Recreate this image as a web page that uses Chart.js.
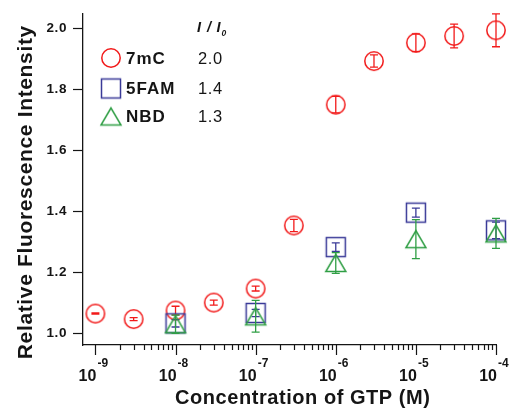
<!DOCTYPE html>
<html><head><meta charset="utf-8">
<script src="https://cdn.jsdelivr.net/npm/chart.js@4/dist/chart.umd.min.js"></script>
<style>html,body{margin:0;padding:0;background:#fff}#wrap{width:510px;height:412px}</style>
</head><body><div id="wrap"><canvas id="c" width="510" height="412"></canvas></div>
<script>
// ---- data ----
const conc7mC = [1e-9, 3e-9, 1e-8, 3e-8, 1e-7, 3e-7, 1e-6, 3e-6, 1e-5, 3e-5, 1e-4];
const val7mC  = [1.064, 1.046, 1.074, 1.100, 1.146, 1.353, 1.749, 1.892, 1.952, 1.974, 1.993];
const err7mC  = [0.002, 0.005, 0.014, 0.008, 0.008, 0.020, 0.027, 0.020, 0.029, 0.039, 0.054];
const conc5FAM = [1e-8, 1e-7, 1e-6, 1e-5, 1e-4];
const val5FAM  = [1.032, 1.066, 1.282, 1.395, 1.337];
const err5FAM  = [0.012, 0.012, 0.014, 0.015, 0.027];
const concNBD = [1e-8, 1e-7, 1e-6, 1e-5, 1e-4];
const valNBD  = [1.029, 1.055, 1.230, 1.308, 1.327];
const errNBD  = [0.030, 0.052, 0.034, 0.064, 0.049];
const yTicks = [1.0, 1.2, 1.4, 1.6, 1.8, 2.0];
const xDecades = [-9, -8, -7, -6, -5, -4];
const legendNames = ['7mC', '5FAM', 'NBD'];
const legendRatios = ['2.0', '1.4', '1.3'];
const xTitle = 'Concentration of GTP (M)';
const yTitle = 'Relative Fluorescence Intensity';

const FONT = '"Liberation Sans", Arial, Helvetica, sans-serif';
const RED = '#f21a1a', BLUE = '#3a3a98', GREEN = '#2f9e44', INK = '#151515';

function marker(kind, color) {
  const c = document.createElement('canvas');
  c.width = 24; c.height = 24;
  const g = c.getContext('2d');
  g.strokeStyle = color; g.lineWidth = 1.5;
  g.beginPath();
  if (kind === 'circle') g.arc(12, 12, 9.2, 0, Math.PI * 2);
  else if (kind === 'square') g.rect(2.5, 2.5, 19, 19);
  else { g.moveTo(12, 3.5); g.lineTo(2, 20.5); g.lineTo(22, 20.5); g.closePath(); }
  g.stroke();
  return c;
}
const mCircle = marker('circle', RED), mSquare = marker('square', BLUE), mTri = marker('tri', GREEN);
const markers = [mCircle, mSquare, mTri];

const pts = (xs, ys) => xs.map((x, i) => ({x, y: ys[i]}));

const errorBars = {
  id: 'errorBars',
  afterDatasetDraw(chart, args) {
    const ds = chart.data.datasets[args.index];
    const meta = args.meta;
    const ys = chart.scales.y;
    const ctx = chart.ctx;
    ctx.save();
    ctx.strokeStyle = ds.errColor; ctx.lineWidth = 1.3;
    meta.data.forEach((p, j) => {
      const v = ds.data[j].y, e = ds.errors[j];
      const y1 = ys.getPixelForValue(v + e), y2 = ys.getPixelForValue(v - e);
      ctx.beginPath();
      ctx.moveTo(p.x, y1); ctx.lineTo(p.x, y2);
      ctx.moveTo(p.x - 4, y1); ctx.lineTo(p.x + 4, y1);
      ctx.moveTo(p.x - 4, y2); ctx.lineTo(p.x + 4, y2);
      ctx.stroke();
    });
    ctx.restore();
  }
};

function spacedText(ctx, txt, x, y, ls, align) {
  ctx.letterSpacing = ls + 'px';
  let w = ctx.measureText(txt).width - ls;
  let sx = align === 'center' ? x - w / 2 : (align === 'right' ? x - w : x);
  ctx.textAlign = 'left';
  ctx.fillText(txt, sx, y);
  ctx.letterSpacing = '0px';
}

const decor = {
  id: 'decor',
  beforeDraw(chart) { chart.ctx.letterSpacing = '0.6px'; },
  afterDraw(chart) {
    const ctx = chart.ctx, xs = chart.scales.x, ca = chart.chartArea;
    ctx.save();
    ctx.letterSpacing = '0px';
    // x ticks
    ctx.strokeStyle = INK; ctx.lineWidth = 1.2;
    ctx.beginPath();
    for (let d = xDecades[0]; d <= xDecades[xDecades.length - 1]; d++) {
      const px = Math.round(xs.getPixelForValue(Math.pow(10, d))) + 0.5;
      ctx.moveTo(px, ca.bottom); ctx.lineTo(px, ca.bottom + 10);
      if (d < xDecades[xDecades.length - 1]) {
        for (let m = 2; m <= 9; m++) {
          const q = Math.round(xs.getPixelForValue(m * Math.pow(10, d))) + 0.5;
          ctx.moveTo(q, ca.bottom); ctx.lineTo(q, ca.bottom + 5);
        }
      }
    }
    ctx.stroke();
    // x tick labels
    ctx.fillStyle = INK; ctx.textBaseline = 'alphabetic';
    xDecades.forEach(d => {
      const px = xs.getPixelForValue(Math.pow(10, d));
      ctx.font = 'bold 16px ' + FONT; ctx.textAlign = 'right';
      ctx.fillText('10', px + 1, 381);
      ctx.font = 'bold 12px ' + FONT; ctx.textAlign = 'left';
      ctx.fillText(String(d), px + 2, 367);
    });
    // titles
    ctx.font = 'bold 20px ' + FONT;
    spacedText(ctx, xTitle, 302.5, 403.5, 0.55, 'center');
    ctx.save();
    ctx.translate(31.5, 192.5); ctx.rotate(-Math.PI / 2);
    ctx.font = 'bold 21px ' + FONT;
    spacedText(ctx, yTitle, 0, 0, 0.65, 'center');
    ctx.restore();
    // legend
    const rowsY = [58, 88.5, 116.5];
    ctx.textBaseline = 'middle';
    rowsY.forEach((ry, i) => {
      const m = markers[i];
      ctx.drawImage(m, 111 - m.width / 2, ry - m.height / 2);
      ctx.fillStyle = INK;
      ctx.font = 'bold 17px ' + FONT;
      spacedText(ctx, legendNames[i], 126, ry + 1, 1, 'left');
      ctx.font = '16.5px ' + FONT;
      spacedText(ctx, legendRatios[i], 198, ry + 1, 0.6, 'left');
    });
    ctx.textBaseline = 'alphabetic';
    ctx.font = 'italic bold 14.5px ' + FONT;
    ctx.fillText('I', 197, 31.5);
    ctx.fillText('/', 207, 31.5);
    ctx.fillText('I', 216.5, 31.5);
    ctx.font = 'italic bold 8.5px ' + FONT;
    ctx.fillText('0', 221.5, 35.5);
    ctx.restore();
  }
};

new Chart(document.getElementById('c'), {
  type: 'scatter',
  data: {
    datasets: [
      {label: legendNames[0], data: pts(conc7mC, val7mC), errors: err7mC, errColor: RED,
       pointStyle: mCircle, order: 3, clip: false},
      {label: legendNames[1], data: pts(conc5FAM, val5FAM), errors: err5FAM, errColor: BLUE,
       pointStyle: mSquare, order: 2, clip: false},
      {label: legendNames[2], data: pts(concNBD, valNBD), errors: errNBD, errColor: GREEN,
       pointStyle: mTri, order: 1, clip: false}
    ]
  },
  options: {
    responsive: false, animation: false, devicePixelRatio: 1,
    layout: {padding: {top: 13, right: 14, left: 0, bottom: 0}},
    plugins: {legend: {display: false}, tooltip: {enabled: false}},
    scales: {
      x: {
        type: 'logarithmic', min: 7.08e-10, max: 1e-4, position: 'bottom',
        afterFit: s => { s.height = 67; },
        grid: {display: false},
        border: {display: true, color: INK, width: 1.3},
        ticks: {display: false}
      },
      y: {
        type: 'linear', min: 0.961, max: 2.046,
        afterBuildTicks: s => { s.ticks = yTicks.map(v => ({value: v})); },
        afterFit: s => { s.width = 83; },
        grid: {drawOnChartArea: false, drawTicks: true, tickLength: 10, tickColor: INK, tickWidth: 1.2},
        border: {display: true, color: INK, width: 1.3},
        ticks: {padding: 6, color: INK, font: {family: FONT, size: 13.5, weight: 'bold'},
                callback: v => Number(v).toFixed(1)}
      }
    }
  },
  plugins: [errorBars, decor]
});
</script>
</body></html>
